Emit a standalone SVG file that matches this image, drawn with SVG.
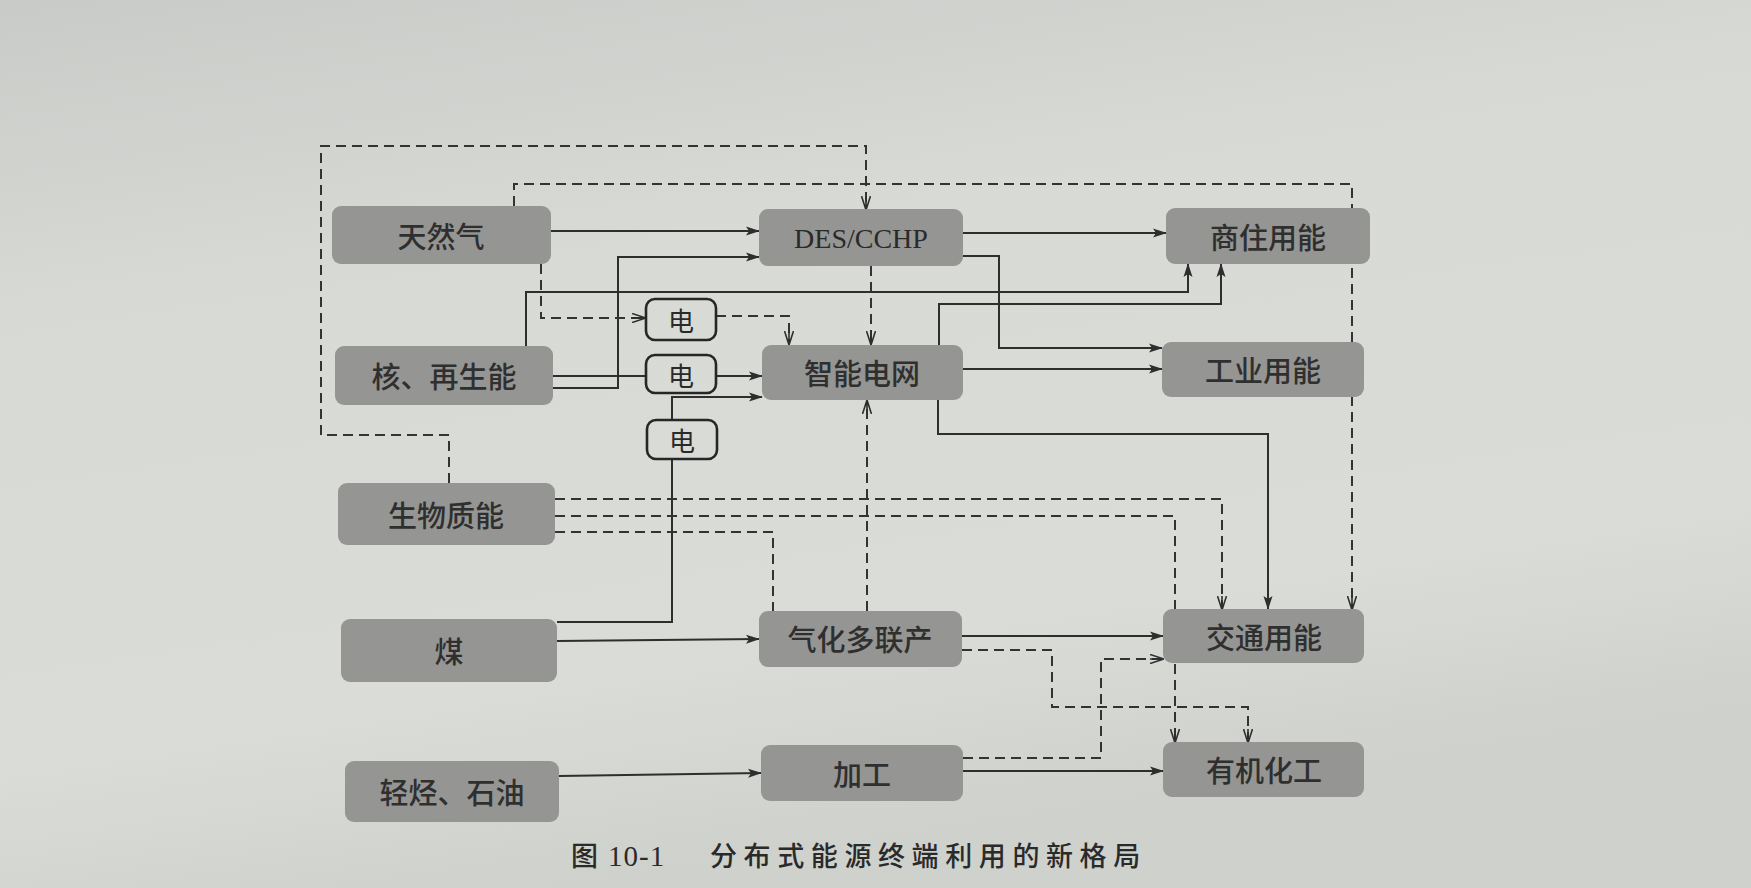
<svg xmlns="http://www.w3.org/2000/svg" width="1751" height="888" viewBox="0 0 1751 888">
<defs>
<linearGradient id="bg" x1="0" y1="0" x2="0.3" y2="1">
<stop offset="0" stop-color="#c9cbc8"/>
<stop offset="0.35" stop-color="#d8dad6"/>
<stop offset="0.8" stop-color="#dadcd8"/>
<stop offset="1" stop-color="#cfd1cd"/>
</linearGradient>
<marker id="a" viewBox="0 0 14 10" refX="13" refY="5" markerWidth="14" markerHeight="10" markerUnits="userSpaceOnUse" orient="auto">
<path d="M0,0.5 L14,5 L0,9.5 L3,5 Z" fill="#2e2e2e"/>
</marker>
<marker id="d" viewBox="0 0 14 10" refX="13" refY="5" markerWidth="14" markerHeight="10" markerUnits="userSpaceOnUse" orient="auto">
<path d="M0,0.5 L14,5 L0,9.5 M0,5 L13,5" fill="none" stroke="#2e2e2e" stroke-width="1.6"/>
</marker>
<style>
.box{fill:#959593;}
.el{fill:none;stroke:#262626;stroke-width:2.6;}
.t{font-family:"Noto Sans CJK SC","Noto Sans",sans-serif;font-size:29px;font-weight:500;fill:#2f2f2f;text-anchor:middle;dominant-baseline:central;}
.ts{font-family:"Liberation Serif",serif;font-size:28px;fill:#2a2a2a;text-anchor:middle;dominant-baseline:central;}
.te{font-family:"Noto Sans CJK SC",sans-serif;font-size:26px;fill:#2a2a2a;text-anchor:middle;dominant-baseline:central;}
.s{fill:none;stroke:#2e2e2e;stroke-width:2;marker-end:url(#a);}
.sn{fill:none;stroke:#2e2e2e;stroke-width:2;}
.k{fill:none;stroke:#333333;stroke-width:2;stroke-dasharray:10 6;marker-end:url(#d);}
.kn{fill:none;stroke:#333333;stroke-width:2;stroke-dasharray:10 6;}
.cap{font-family:"Noto Sans CJK SC",sans-serif;font-size:27px;font-weight:500;fill:#2a2a2a;}
</style>
</defs>
<rect x="0" y="0" width="1751" height="888" fill="url(#bg)"/>

<g id="connectors">
<path class="s" d="M551,231 L759,231"/>
<path class="s" d="M553,388 L618,388 L618,257 L759,257"/>
<path class="sn" d="M553,376 L645,376"/>
<path class="s" d="M716,376 L762,376"/>
<path class="s" d="M526,346 L526,292 L1188,292 L1188,264"/>
<path class="s" d="M939,345 L939,304 L1221,304 L1221,264"/>
<path class="s" d="M963,233 L1166,233"/>
<path class="s" d="M963,256 L999,256 L999,348 L1162,348"/>
<path class="s" d="M963,369 L1162,369"/>
<path class="s" d="M938,400 L938,434 L1268,434 L1268,609"/>
<path class="sn" d="M557,622 L672,622 L672,459"/>
<path class="s" d="M672,419 L672,397 L762,397"/>
<path class="s" d="M557,641 L759,639"/>
<path class="s" d="M962,636 L1163,636"/>
<path class="s" d="M559,776 L761,773"/>
<path class="s" d="M963,771 L1163,771"/>
<path class="k" d="M449,483 L449,435 L321,435 L321,146 L866,146 L866,209"/>
<path class="k" d="M514,206 L514,184 L1352,184 L1352,609"/>
<path class="k" d="M541,264 L541,318 L645,318"/>
<path class="k" d="M716,316 L789,316 L789,344"/>
<path class="k" d="M871,266 L871,344"/>
<path class="k" d="M867,611 L867,401"/>
<path class="k" d="M555,499 L1222,499 L1222,609"/>
<path class="k" d="M555,516 L1175,516 L1175,742"/>
<path class="kn" d="M555,532 L773,532 L773,611"/>
<path class="k" d="M962,650 L1052,650 L1052,707 L1248,707 L1248,742"/>
<path class="k" d="M963,758 L1101,758 L1101,659 L1163,659"/>
</g>

<g id="n-tianranqi"><rect class="box" x="332" y="206" width="219" height="58" rx="9"/><text class="t" x="441" y="235">天然气</text></g>
<g id="n-des"><rect class="box" x="759" y="209" width="204" height="57" rx="9"/><text class="ts" x="861" y="238">DES/CCHP</text></g>
<g id="n-shangzhu"><rect class="box" x="1166" y="208" width="204" height="56" rx="9"/><text class="t" x="1268" y="236">商住用能</text></g>
<g id="n-he"><rect class="box" x="335" y="346" width="218" height="59" rx="9"/><text class="t" x="444" y="375">核、再生能</text></g>
<g id="n-dian1"><rect class="el" x="646" y="299" width="70" height="41" rx="9" fill="#dcdedb"/><text class="te" x="681" y="319">电</text></g>
<g id="n-dian2"><rect class="el" x="646" y="355" width="70" height="38" rx="9" fill="#dcdedb"/><text class="te" x="681" y="374">电</text></g>
<g id="n-dian3"><rect class="el" x="647" y="420" width="70" height="39" rx="9" fill="#dcdedb"/><text class="te" x="682" y="439">电</text></g>
<g id="n-grid"><rect class="box" x="762" y="345" width="201" height="55" rx="9"/><text class="t" x="862" y="372">智能电网</text></g>
<g id="n-gongye"><rect class="box" x="1162" y="342" width="202" height="55" rx="9"/><text class="t" x="1263" y="369">工业用能</text></g>
<g id="n-shengwu"><rect class="box" x="338" y="483" width="217" height="62" rx="9"/><text class="t" x="446" y="514">生物质能</text></g>
<g id="n-mei"><rect class="box" x="341" y="619" width="216" height="63" rx="9"/><text class="t" x="449" y="650">煤</text></g>
<g id="n-qihua"><rect class="box" x="759" y="611" width="203" height="56" rx="9"/><text class="t" x="860" y="638">气化多联产</text></g>
<g id="n-jiaotong"><rect class="box" x="1163" y="609" width="201" height="54" rx="9"/><text class="t" x="1264" y="636">交通用能</text></g>
<g id="n-qingting"><rect class="box" x="345" y="761" width="214" height="61" rx="9"/><text class="t" x="452" y="791">轻烃、石油</text></g>
<g id="n-jiagong"><rect class="box" x="761" y="745" width="202" height="56" rx="9"/><text class="t" x="862" y="773">加工</text></g>
<g id="n-youji"><rect class="box" x="1163" y="742" width="201" height="55" rx="9"/><text class="t" x="1264" y="769">有机化工</text></g>

<g id="caption">
<text class="cap" x="571" y="866">图<tspan font-family="Liberation Serif, serif" font-size="29" font-weight="400" dx="10" letter-spacing="1">10-1</tspan></text>
<text class="cap" x="710" y="866" letter-spacing="6.6">分布式能源终端利用的新格局</text>
</g>
</svg>
